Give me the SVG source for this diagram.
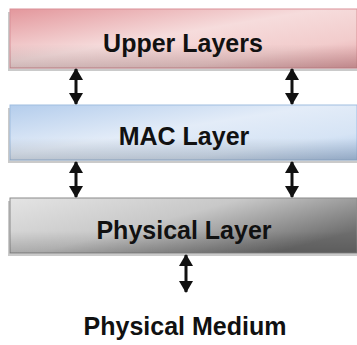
<svg xmlns="http://www.w3.org/2000/svg" width="357" height="345" viewBox="0 0 357 345">
<defs>
<linearGradient id="gUp" x1="0" y1="0" x2="1" y2="1">
<stop offset="0" stop-color="#e3979c"/>
<stop offset="0.45" stop-color="#f6dcdc"/>
<stop offset="0.75" stop-color="#f2cccc"/>
<stop offset="1" stop-color="#e3a0a4"/>
</linearGradient>
<linearGradient id="gMac" x1="0" y1="0" x2="1" y2="1">
<stop offset="0" stop-color="#b4cdec"/>
<stop offset="0.45" stop-color="#e3ecf8"/>
<stop offset="0.75" stop-color="#d6e4f5"/>
<stop offset="1" stop-color="#aec8e9"/>
</linearGradient>
<linearGradient id="gPhy" x1="0" y1="0" x2="1" y2="0.6">
<stop offset="0" stop-color="#e4e4e4"/>
<stop offset="0.5" stop-color="#c8c8c8"/>
<stop offset="1" stop-color="#6e6e6e"/>
</linearGradient>
<linearGradient id="gShade" x1="0" y1="0" x2="0" y2="1">
<stop offset="0" stop-color="#000" stop-opacity="0"/>
<stop offset="0.6" stop-color="#000" stop-opacity="0"/>
<stop offset="1" stop-color="#000" stop-opacity="0.16"/>
</linearGradient>
<marker id="ah" viewBox="0 0 12 14" refX="11" refY="7" markerWidth="12" markerHeight="14" orient="auto-start-reverse" markerUnits="userSpaceOnUse">
<path d="M0,0 L12,7 L0,14 z" fill="#111"/>
</marker>
</defs>
<style>
.lbl{font-family:"Liberation Sans",Arial,sans-serif;font-weight:bold;font-size:25px;fill:#111;text-anchor:middle}
.shadow{fill:#8a8a8a;opacity:0.45}
.conn{stroke:#111;stroke-width:3;fill:none}
</style>
<g id="upper-layers">
<rect class="shadow" x="8" y="12" width="349" height="59"/>
<rect x="10" y="9" width="347" height="59" fill="url(#gUp)" stroke="#d99097" stroke-width="1"/>
<rect x="10" y="9" width="347" height="59" fill="url(#gShade)"/>
<text class="lbl" x="183" y="52">Upper Layers</text>
</g>
<g id="mac-layer">
<rect class="shadow" x="8" y="108" width="349" height="55"/>
<rect x="10" y="105" width="347" height="55" fill="url(#gMac)" stroke="#9fbde0" stroke-width="1"/>
<rect x="10" y="105" width="347" height="55" fill="url(#gShade)"/>
<text class="lbl" x="184" y="145">MAC Layer</text>
</g>
<g id="physical-layer">
<rect class="shadow" x="8" y="201" width="349" height="55"/>
<rect x="10" y="198" width="347" height="55" fill="url(#gPhy)" stroke="#8a8a8a" stroke-width="1"/>
<rect x="10" y="198" width="347" height="55" fill="url(#gShade)"/>
<text class="lbl" x="184" y="239">Physical Layer</text>
</g>
<g id="physical-medium">
<text class="lbl" x="185" y="335">Physical Medium</text>
</g>
<g id="connectors">
<line class="conn" x1="76" y1="69" x2="76" y2="104" marker-start="url(#ah)" marker-end="url(#ah)"/>
<line class="conn" x1="292" y1="69" x2="292" y2="104" marker-start="url(#ah)" marker-end="url(#ah)"/>
<line class="conn" x1="76" y1="162" x2="76" y2="197" marker-start="url(#ah)" marker-end="url(#ah)"/>
<line class="conn" x1="292" y1="162" x2="292" y2="197" marker-start="url(#ah)" marker-end="url(#ah)"/>
<line class="conn" x1="186" y1="255" x2="186" y2="292" marker-start="url(#ah)" marker-end="url(#ah)"/>
</g>
</svg>
